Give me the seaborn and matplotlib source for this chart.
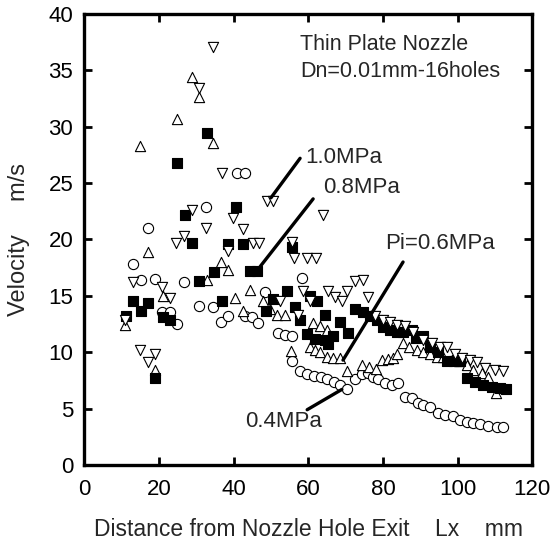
import matplotlib
matplotlib.use("Agg")
import matplotlib.pyplot as plt
import seaborn as sns
import pandas as pd

# ---- data ----
p04_x = [13.0, 15.1, 17.1, 18.9, 20.8, 22.9, 24.7, 26.7, 30.7, 32.7, 34.5, 36.6, 38.5, 40.9, 43.0,
         43.0, 45.0, 46.5, 48.4, 51.9, 53.8, 55.6, 55.5, 58.3, 57.8, 59.7, 61.6, 63.4, 65.0, 66.9,
         68.6, 70.4, 72.5, 74.4, 75.9, 77.3, 78.7, 80.6, 82.4, 84.0, 85.9, 87.8, 89.4, 90.7, 92.6,
         94.8, 96.6, 98.8, 100.7, 102.5, 104.1, 106.0, 108.2, 110.6, 112.2]
p04_y = [17.8, 16.4, 21.0, 16.5, 13.6, 13.6, 12.5, 16.2, 14.1, 22.9, 14.0, 12.7, 13.2, 25.9, 25.9,
         13.2, 13.1, 12.6, 15.3, 11.7, 11.5, 11.4, 9.2, 16.6, 8.3, 8.1, 7.9, 7.8, 7.6, 7.4,
         7.1, 6.7, 7.6, 8.1, 8.2, 7.8, 7.6, 7.3, 7.1, 7.3, 6.0, 5.9, 5.5, 5.3, 5.1,
         4.6, 4.4, 4.3, 4.0, 3.8, 3.7, 3.6, 3.5, 3.4, 3.4]

p06_x = [10.9, 14.9, 17.0, 18.9, 21.0, 24.8, 28.8, 30.7, 32.8, 34.5, 36.6, 38.5, 40.4, 42.5, 44.4,
         47.9, 49.7, 51.6, 53.8, 55.4, 61.3, 63.1, 65.0, 60.5, 61.8, 63.1, 65.0, 66.6, 68.5, 70.4,
         74.4, 76.3, 78.2, 79.8, 81.4, 82.8, 83.8, 85.4, 87.0, 89.1, 90.7, 92.6, 94.5, 96.1, 98.5,
         100.3, 102.5, 104.2, 106.6, 108.3, 110.3]
p06_y = [12.4, 28.3, 18.9, 8.4, 15.0, 30.7, 34.4, 32.6, 16.4, 28.6, 18.0, 17.3, 14.8, 13.7, 15.5,
         14.5, 13.8, 13.3, 13.3, 10.1, 12.6, 12.3, 12.0, 10.5, 10.2, 10.0, 9.6, 9.5, 9.5, 8.3,
         8.9, 8.7, 8.5, 9.3, 9.4, 9.5, 9.8, 10.8, 10.5, 10.2, 10.0, 9.8, 9.6, 9.6, 9.3,
         9.2, 8.9, 8.4, 8.2, 7.8, 6.4]

p08_x = [11.1, 13.0, 15.1, 17.0, 18.9, 21.0, 22.9, 24.8, 26.9, 28.8, 30.7, 32.8, 34.7, 36.9, 38.5,
         40.6, 42.5, 44.3, 46.3, 48.7, 50.6, 54.2, 55.6, 56.4, 57.8, 59.7, 60.4, 61.8, 62.3, 64.5,
         64.5, 65.3, 66.7, 68.6, 70.6, 72.5, 74.7, 76.5, 78.3, 80.0, 81.9, 83.8, 85.4, 87.7, 89.0,
         90.8, 92.6, 94.8, 97.2, 99.0, 100.7, 102.5, 104.7, 106.8, 109.2, 111.4, 113.0]
p08_y = [13.2, 14.5, 13.7, 14.4, 7.7, 13.1, 12.9, 26.8, 22.2, 19.7, 16.3, 29.4, 17.1, 14.5, 19.6,
         22.9, 19.6, 17.2, 17.2, 13.7, 14.7, 15.4, 19.3, 14.0, 12.9, 11.6, 15.0, 11.2, 14.5, 13.3,
         11.1, 10.7, 11.4, 12.7, 11.7, 13.8, 13.6, 13.2, 12.9, 12.2, 12.0, 11.8, 11.8, 12.0, 11.3,
         11.4, 10.5, 10.0, 9.2, 9.2, 9.2, 7.7, 7.4, 7.1, 6.9, 6.8, 6.7]

p10_x = [10.9, 13.0, 14.9, 17.0, 18.9, 20.8, 22.9, 24.5, 26.7, 28.8, 30.7, 32.7, 34.5, 36.9, 38.5,
         39.8, 42.5, 45.2, 46.8, 48.9, 50.5, 52.4, 55.6, 56.2, 57.2, 58.6, 59.7, 60.5, 62.1, 64.0,
         65.3, 67.2, 69.0, 70.4, 72.5, 74.6, 76.0, 77.9, 80.0, 81.9, 83.8, 86.0, 88.0, 90.8, 93.2,
         95.3, 97.2, 99.3, 101.2, 103.3, 105.2, 107.4, 110.0, 112.2]
p10_y = [12.9, 16.2, 10.2, 9.1, 9.8, 15.8, 14.8, 19.7, 20.3, 22.6, 33.4, 21.0, 37.1, 25.9, 19.0,
         21.9, 20.9, 19.7, 19.7, 23.4, 23.4, 14.5, 19.8, 18.4, 13.3, 15.4, 18.4, 14.5, 18.4, 22.2,
         15.4, 14.9, 14.5, 15.4, 16.3, 16.4, 14.9, 13.2, 12.9, 12.7, 12.4, 12.3, 11.8, 11.1, 10.8,
         10.5, 10.5, 9.8, 9.5, 9.3, 9.1, 8.6, 8.4, 8.3]

x_ticks = [0, 20, 40, 60, 80, 100, 120]
y_ticks = [0, 5, 10, 15, 20, 25, 30, 35, 40]

sns.set_style("ticks")
plt.rcParams['font.family'] = ['Liberation Sans', 'DejaVu Sans']

fig = plt.figure(figsize=(5.52, 5.46), dpi=100)
ax = fig.add_axes([0.153, 0.1484, 0.811, 0.826])

series = [
    (p04_x, p04_y, "o", "white", "0.4MPa"),
    (p06_x, p06_y, "^", "white", "0.6MPa"),
    (p08_x, p08_y, "s", "black", "0.8MPa"),
    (p10_x, p10_y, "v", "white", "1.0MPa"),
]
for xs, ys, mk, fc, name in series:
    df = pd.DataFrame({"Lx": xs, "V": ys})
    sns.scatterplot(data=df, x="Lx", y="V", marker=mk, s=54, color=fc,
                    edgecolor="black", linewidth=0.8, ax=ax, legend=False, zorder=3)

ax.set_xlim(0, 120)
ax.set_ylim(0, 40)
ax.set_xticks(x_ticks)
ax.set_yticks(y_ticks)
ax.tick_params(direction="in", length=6, width=2, top=True, right=True,
               labelsize=16, pad=8, colors="black")
ax.tick_params(axis="x", pad=10)
for sp in ax.spines.values():
    sp.set_linewidth(2.4)
    sp.set_color("black")

ax.set_xlabel("Distance from Nozzle Hole Exit    Lx    mm", fontsize=16.5, labelpad=13)
ax.set_ylabel("Velocity     m/s", fontsize=17, labelpad=13)

# annotations
ax.text(57.8, 37.3, "Thin Plate Nozzle", fontsize=15.5, va="center", ha="left")
ax.text(57.8, 34.9, "Dn=0.01mm-16holes", fontsize=15.5, va="center", ha="left")

labels = [
    ("1.0MPa", (59.1, 27.3), (57.8, 27.2), (50.0, 23.7)),
    ("0.8MPa", (63.9, 24.6), (61.3, 23.6), (47.1, 17.6)),
    ("Pi=0.6MPa", (80.6, 19.6), (85.4, 18.0), (69.3, 9.3)),
    ("0.4MPa", (43.0, 3.9), (69.0, 6.7), (59.7, 4.9)),
]
for txt, tpos, p0, p1 in labels:
    ax.text(tpos[0], tpos[1], txt, fontsize=16, va="center", ha="left")
    ax.plot([p0[0], p1[0]], [p0[1], p1[1]], color="black", lw=2.4, zorder=4)

fig.savefig("out.png", dpi=100)
